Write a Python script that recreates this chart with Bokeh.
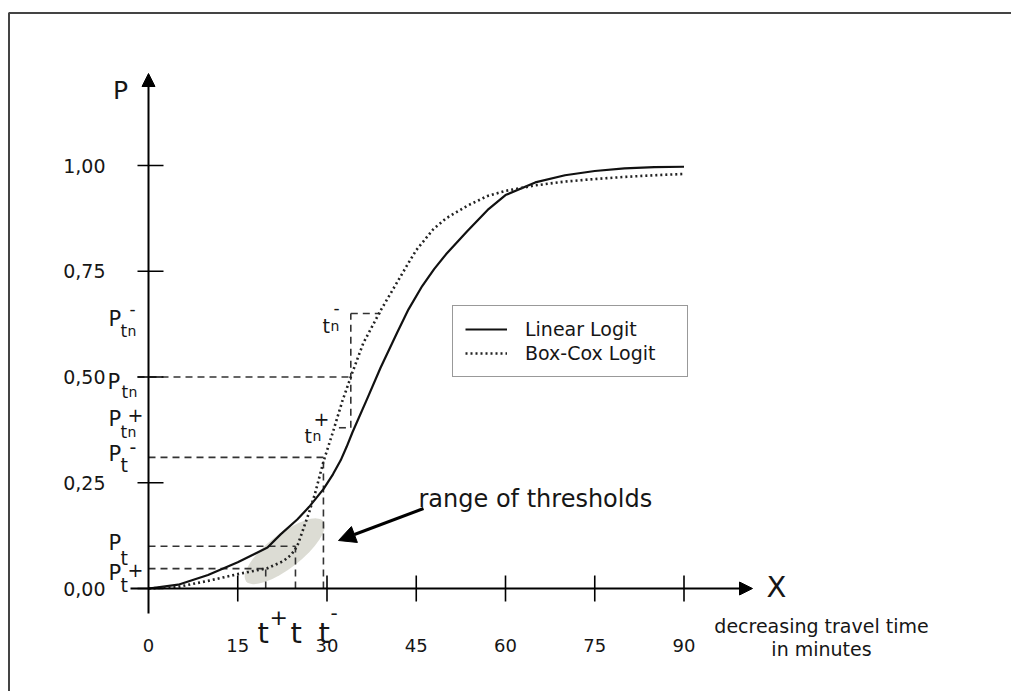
from bokeh.plotting import figure
from bokeh.models import Range1d, Label, Arrow, NormalHead, Legend, LegendItem
from bokeh.core.properties import value
from bokeh.embed import file_html
from bokeh.resources import INLINE

# ---------------- data ----------------
minutes_linear = [0, 5, 10, 15, 20, 22.2, 25, 27, 29.4, 31, 32.3, 33.3, 34.3, 36.8, 39,
                  41.8, 43.7, 46, 48, 50, 53.6, 57, 60, 65, 70, 75, 80, 85, 90]
p_linear = [0.0, 0.009, 0.032, 0.062, 0.097, 0.128, 0.163, 0.193, 0.235, 0.27, 0.303,
            0.335, 0.37, 0.45, 0.522, 0.605, 0.66, 0.715, 0.755, 0.79, 0.845, 0.895,
            0.93, 0.96, 0.977, 0.987, 0.993, 0.996, 0.997]

minutes_boxcox = [0, 5, 10, 15, 20, 22.7, 24, 25, 26, 27, 28, 29.4, 31, 32.6, 34.3,
                  36.1, 39, 41, 43.5, 45, 47.9, 50, 53.6, 57, 60, 65, 70, 75, 80, 85, 90]
p_boxcox = [0.0, 0.004, 0.018, 0.034, 0.048, 0.065, 0.08, 0.10, 0.14, 0.18, 0.225,
            0.30, 0.37, 0.444, 0.512, 0.58, 0.657, 0.705, 0.765, 0.80, 0.85, 0.875,
            0.905, 0.928, 0.94, 0.953, 0.962, 0.968, 0.973, 0.977, 0.98]

x_ticks = [0, 15, 30, 45, 60, 75, 90]
x_tick_labels = ["0", "15", "30", "45", "60", "75", "90"]
y_ticks = [0.0, 0.25, 0.50, 0.75, 1.00]
y_tick_labels = ["0,00", "0,25", "0,50", "0,75", "1,00"]

# thresholds
t_plus, t_mid, t_minus = 19.7, 24.7, 29.4
P_t_plus, P_t, P_t_minus = 0.047, 0.10, 0.31
t_n, t_n_minus, t_n_plus_start = 34.0, 39.0, 32.0
P_tn, P_tn_plus, P_tn_minus = 0.50, 0.38, 0.65
blob_center = (22.9, 0.088)

# ---------------- layout helpers ----------------
W, H = 1011, 691
X0, SX = 148.0, 5.95     # pixel of x=0, pixels per minute
Y0, SY = 588.0, 423.0    # pixel of P=0, pixels per unit


def dx(px):
    return (px - X0) / SX


def dy(py):
    return (Y0 - py) / SY


FONT = "DejaVu Sans"
INK = "#161616"

p = figure(width=W, height=H, min_border=0, toolbar_location=None,
           output_backend="svg", x_axis_location=None, y_axis_location=None,
           x_range=Range1d(dx(0), dx(W)), y_range=Range1d(dy(H), dy(0)))
p.grid.visible = False
p.outline_line_color = None
p.background_fill_color = "white"
p.border_fill_color = "white"

# frame of the original picture (left and top edges)
p.line([dx(8.5), dx(8.5), dx(W)], [dy(H), dy(12.5), dy(12.5)],
       line_color="#444444", line_width=2)

# grey "range of thresholds" blob
p.ellipse(x=[blob_center[0]], y=[blob_center[1]], width=98, height=34, angle=0.66,
          width_units="screen", height_units="screen",
          fill_color="#dcdcd4", line_color=None)

# dashed guide lines
dash = dict(line_color="#333333", line_width=1.6, line_dash="7 5")
hx0 = [0, 0, 0, dx(137), t_n, t_n_plus_start]
hx1 = [t_plus, t_mid, t_minus, t_n, t_n_minus, t_n]
hy = [P_t_plus, P_t, P_t_minus, P_tn, P_tn_minus, P_tn_plus]
p.segment(x0=hx0, y0=hy, x1=hx1, y1=hy, **dash)
vx = [t_plus, t_mid, t_minus, t_n]
vy0 = [0, 0, 0, P_tn_plus]
vy1 = [P_t_plus, P_t, P_t_minus, P_tn_minus]
p.segment(x0=vx, y0=vy0, x1=vx, y1=vy1, **dash)

# curves
r_lin = p.line(minutes_linear, p_linear, line_color="#111111", line_width=2.2)
r_box = p.line(minutes_boxcox, p_boxcox, line_color="#222222", line_width=2.6,
               line_dash="2 3")

# axes with arrows
head = dict(size=13, fill_color="black", line_color="black")
p.add_layout(Arrow(x_start=dx(130), y_start=0, x_end=dx(752), y_end=0,
                   line_width=2, line_color="black", end=NormalHead(**head)))
p.add_layout(Arrow(x_start=0, y_start=dy(613), x_end=0, y_end=dy(73),
                   line_width=2, line_color="black", end=NormalHead(**head)))

# tick marks
p.segment(x0=[dx(137)] * len(y_ticks), y0=y_ticks, x1=[dx(163)] * len(y_ticks),
          y1=y_ticks, line_color="black", line_width=1.6)
xt = x_ticks[1:]
p.segment(x0=xt, y0=[dy(575)] * len(xt), x1=xt, y1=[dy(601)] * len(xt),
          line_color="black", line_width=1.6)

# tick labels
p.text(x=[dx(105)] * len(y_ticks), y=y_ticks, text=y_tick_labels,
       text_font=value(FONT), text_font_size=value("19px"), text_align="right",
       text_baseline="middle", text_color=INK)
p.text(x=x_ticks, y=[dy(645)] * len(x_ticks), text=x_tick_labels,
       text_font=value(FONT), text_font_size=value("18px"), text_align="center",
       text_baseline="middle", text_color=INK)


def lab(px, py, text, size, align="left", baseline="alphabetic"):
    p.add_layout(Label(x=dx(px), y=dy(py), text=text, text_font=FONT,
                       text_font_size=f"{size}px", text_align=align,
                       text_baseline=baseline, text_color=INK))


# axis names
lab(120, 90, "P", 25, "center", "middle")
lab(776, 586, "X", 29, "center", "middle")
lab(821, 625, "decreasing travel time", 19, "center")
lab(821, 648, "in minutes", 19, "center")

# P labels on the left
lab(108, 318, "P", 21); lab(120, 330, "t", 17); lab(127, 330, "n", 14); lab(129, 308, "-", 17)
lab(107, 381, "P", 21); lab(121, 391, "t", 17); lab(128, 391, "n", 14)
lab(108, 418, "P", 21); lab(120, 431, "t", 17); lab(127, 431, "n", 14); lab(127, 414, "+", 19)
lab(108, 453, "P", 21); lab(120, 464, "t", 19); lab(129, 446, "-", 19)
lab(108, 542, "P", 21); lab(120, 557, "t", 19)
lab(108, 572, "P", 21); lab(120, 584, "t", 19); lab(127, 569, "+", 19)

# t labels under the axis
lab(257, 632, "t", 29); lab(269, 616, "+", 22)
lab(290, 632, "t", 29)
lab(318, 632, "t", 29); lab(330, 612, "-", 20)

# t_n labels
lab(322, 325, "t", 19); lab(330, 325, "n", 14); lab(333, 307, "-", 17)
lab(304, 435, "t", 19); lab(312, 435, "n", 14); lab(313, 418, "+", 19)

# range of thresholds
lab(418, 498, "range of thresholds", 24)
p.add_layout(Arrow(x_start=dx(423), y_start=dy(508), x_end=dx(338), y_end=dy(540),
                   line_width=3, line_color="black",
                   end=NormalHead(size=17, fill_color="black", line_color="black")))

# legend
legend = Legend(items=[LegendItem(label="Linear Logit", renderers=[r_lin]),
                       LegendItem(label="Box-Cox Logit", renderers=[r_box])],
                location=(452, 314), margin=0, padding=12, spacing=2,
                glyph_width=42, glyph_height=20, label_height=20, label_standoff=18,
                label_width=150,
                label_text_font=FONT, label_text_font_size="19px",
                label_text_color=INK, border_line_color="#333333",
                border_line_width=1.5, background_fill_alpha=1)
p.add_layout(legend)

open("out.html", "w").write(file_html(p, INLINE))
